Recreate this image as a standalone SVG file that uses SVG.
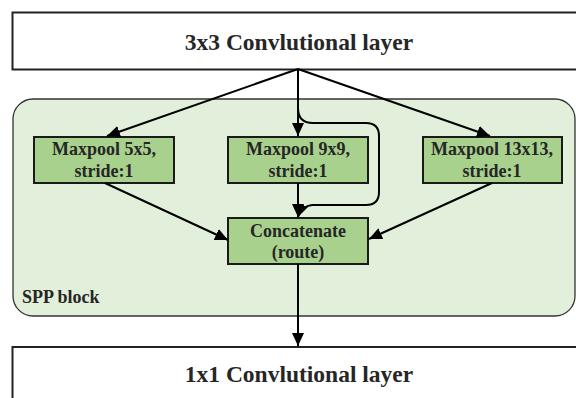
<svg xmlns="http://www.w3.org/2000/svg" width="576" height="398" viewBox="0 0 576 398">
<defs>
<marker id="arr" markerWidth="13" markerHeight="12" refX="13" refY="6" orient="auto" markerUnits="userSpaceOnUse">
<path d="M0,0 L13,6 L0,12 Z" fill="#000"/>
</marker>
<style>
.layer{fill:#fff;stroke:#222;stroke-width:2}
.pool{fill:#a9d18e;stroke:#1a1a1a;stroke-width:2}
.spp{fill:#e2efda;stroke:#333;stroke-width:1.3}
.t{font-family:"Liberation Serif","Times New Roman",serif;font-weight:bold;fill:#262626;text-anchor:middle}
.big{font-size:23.5px}
.sm{font-size:18px}
.c{fill:none;stroke:#000;stroke-width:2;marker-end:url(#arr)}
</style>
</defs>
<g id="spp-block">
<rect class="spp" x="13" y="99" width="562" height="217" rx="20" ry="20"/>
<text class="t sm" x="22" y="303" style="text-anchor:start">SPP block</text>
</g>
<g id="conv3x3">
<rect class="layer" x="12.5" y="12.5" width="570" height="57"/>
<text class="t big" x="299" y="49.5">3x3 Convlutional layer</text>
</g>
<g id="maxpool5">
<rect class="pool" x="34" y="137" width="140" height="46"/>
<text class="t sm" x="104" y="155">Maxpool 5x5,</text>
<text class="t sm" x="104" y="177">stride:1</text>
</g>
<g id="maxpool9">
<rect class="pool" x="228" y="137" width="140" height="46"/>
<text class="t sm" x="298" y="155">Maxpool 9x9,</text>
<text class="t sm" x="298" y="177">stride:1</text>
</g>
<g id="maxpool13">
<rect class="pool" x="423" y="137" width="139" height="46"/>
<text class="t sm" x="492" y="155">Maxpool 13x13,</text>
<text class="t sm" x="492" y="177">stride:1</text>
</g>
<g id="concat">
<rect class="pool" x="228" y="218" width="140" height="46"/>
<text class="t sm" x="298" y="237">Concatenate</text>
<text class="t sm" x="298" y="258">(route)</text>
</g>
<g id="conv1x1">
<rect class="layer" x="12.5" y="347" width="570" height="60"/>
<text class="t big" x="299" y="382">1x1 Convlutional layer</text>
</g>
<g id="connectors">
<path class="c" d="M298,69 L107,136"/>
<path class="c" d="M298,69 L298,136"/>
<path class="c" d="M298,69 L490,136"/>
<path class="c" d="M298,69 L298,108 Q298,123 313,123 L366,123 Q379,123 379,136 L379,192 Q379,205 366,205 L312,205 Q302,206 298,217"/>
<path class="c" d="M105,183 L228,240"/>
<path class="c" d="M492,183 L369,239"/>
<path class="c" d="M298,183 L298,217"/>
<path class="c" d="M298,264 L298,346"/>
</g>
</svg>
